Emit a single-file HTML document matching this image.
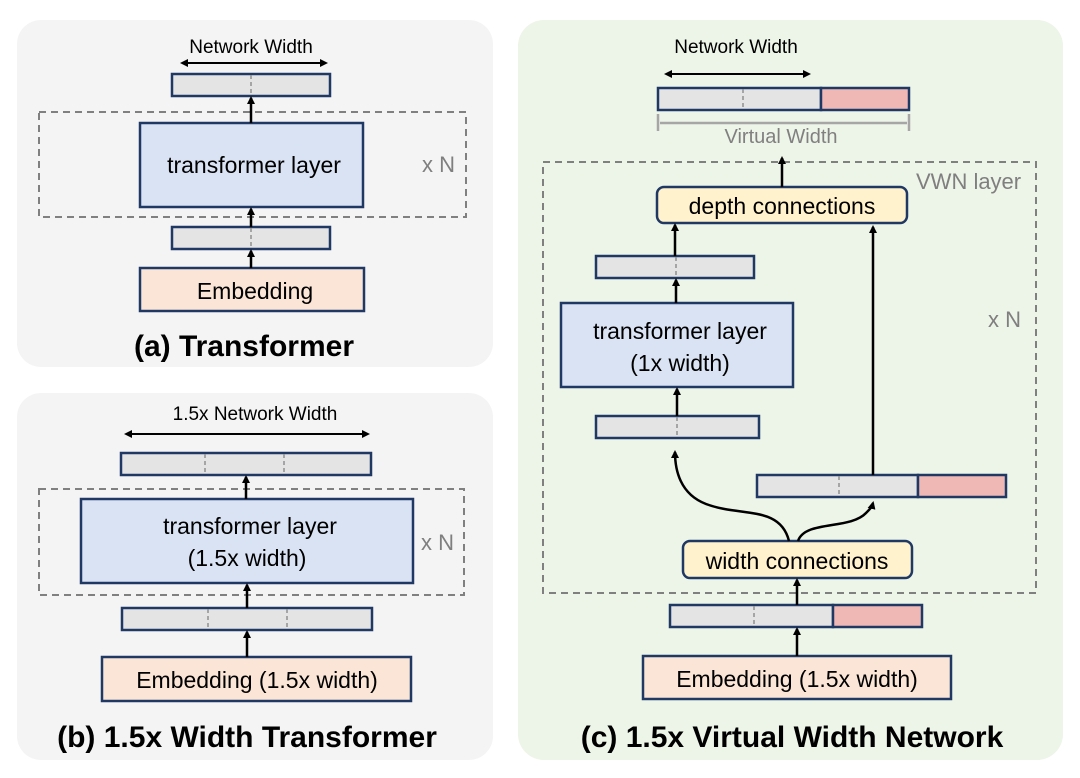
<!DOCTYPE html>
<html><head><meta charset="utf-8"><style>
html,body{margin:0;padding:0;background:#fff;}
svg{display:block;font-family:"Liberation Sans",sans-serif;}
</style></head><body>
<svg width="1080" height="778" viewBox="0 0 1080 778" xmlns="http://www.w3.org/2000/svg">
<defs>
<marker id="ah" markerWidth="8" markerHeight="8" refX="6" refY="4" orient="auto" markerUnits="userSpaceOnUse"><path d="M0,0 L8,4 L0,8 Z" fill="#000"/></marker>
<marker id="ahs" markerWidth="8" markerHeight="8" refX="2" refY="4" orient="auto" markerUnits="userSpaceOnUse"><path d="M8,0 L0,4 L8,8 Z" fill="#000"/></marker>
</defs>
<rect x="17" y="20" width="476" height="347" rx="24" fill="#f4f4f4"/>
<rect x="17" y="393" width="476" height="367" rx="24" fill="#f4f4f4"/>
<rect x="518" y="20" width="545" height="740" rx="26" fill="#edf4e8"/>

<g stroke="#203864" stroke-width="2.5">
<rect x="172" y="74" width="158" height="22" fill="#e4e4e4"/>
<rect x="140" y="123" width="223" height="84" fill="#dae3f3"/>
<rect x="172" y="227" width="158" height="22" fill="#e4e4e4"/>
<rect x="140" y="268" width="224" height="43" fill="#fbe5d6"/>
<rect x="121" y="453" width="250" height="22" fill="#e4e4e4"/>
<rect x="81" y="499" width="332" height="84" fill="#dae3f3"/>
<rect x="122" y="608" width="250" height="22" fill="#e4e4e4"/>
<rect x="102" y="657" width="309" height="44" fill="#fbe5d6"/>
<rect x="658" y="88" width="163" height="22" fill="#e4e4e4"/>
<rect x="821" y="88" width="88" height="22" fill="#f0b8b4"/>
<rect x="657" y="187" width="250" height="36" rx="7" fill="#fff2cc"/>
<rect x="596" y="256" width="158" height="22" fill="#e4e4e4"/>
<rect x="561" y="303" width="232" height="84" fill="#dae3f3"/>
<rect x="596" y="416" width="163" height="22" fill="#e4e4e4"/>
<rect x="757" y="475" width="161" height="22" fill="#e4e4e4"/>
<rect x="918" y="475" width="88" height="22" fill="#f0b8b4"/>
<rect x="683" y="541" width="229" height="37" rx="7" fill="#fff2cc"/>
<rect x="670" y="605" width="163" height="22" fill="#e4e4e4"/>
<rect x="833" y="605" width="89" height="22" fill="#f0b8b4"/>
<rect x="643" y="656" width="308" height="43" fill="#fbe5d6"/>
</g>

<g fill="none" stroke="#808080" stroke-width="2" stroke-dasharray="7,5">
<rect x="39" y="112" width="427" height="105"/>
<rect x="39" y="489" width="425" height="106"/>
<rect x="543" y="162" width="493" height="431"/>
</g>
<g stroke="#909090" stroke-width="1.5" stroke-dasharray="4,3">
<line x1="251" y1="75" x2="251" y2="95"/><line x1="251" y1="228" x2="251" y2="248"/>
<line x1="205" y1="454" x2="205" y2="474"/><line x1="284" y1="454" x2="284" y2="474"/>
<line x1="208" y1="609" x2="208" y2="629"/><line x1="287" y1="609" x2="287" y2="629"/>
<line x1="743" y1="89" x2="743" y2="109"/><line x1="676" y1="257" x2="676" y2="277"/>
<line x1="677" y1="417" x2="677" y2="437"/><line x1="839" y1="476" x2="839" y2="496"/>
<line x1="754" y1="606" x2="754" y2="626"/>
</g>

<g stroke="#000" stroke-width="2.5" fill="none" marker-end="url(#ah)">
<line x1="251" y1="123" x2="251" y2="98"/>
<line x1="251" y1="227" x2="251" y2="209"/>
<line x1="251" y1="268" x2="251" y2="251"/>
<line x1="246" y1="499" x2="246" y2="477"/>
<line x1="247" y1="608" x2="247" y2="585"/>
<line x1="247" y1="657" x2="247" y2="632"/>
<line x1="782" y1="187" x2="782" y2="158"/>
<line x1="675" y1="256" x2="675" y2="225"/>
<line x1="676" y1="303" x2="676" y2="280"/>
<line x1="677" y1="416" x2="677" y2="389"/>
<line x1="873" y1="475" x2="873" y2="227"/>
<line x1="797" y1="605" x2="797" y2="580"/>
<line x1="797" y1="656" x2="797" y2="629"/>
<path d="M789,541 C780,505 740,517 706,504 C680,494 675,470 675,452"/>
<path d="M798,541 C805,520 850,530 866,513 C870,509 872,507 873,503"/>
</g>
<g stroke="#000" stroke-width="2" marker-end="url(#ah)" marker-start="url(#ahs)">
<line x1="182" y1="63" x2="326" y2="63"/>
<line x1="126" y1="434" x2="368" y2="434"/>
<line x1="666" y1="74" x2="809" y2="74"/>
</g>
<g stroke="#a6a6a6" stroke-width="2.5">
<line x1="660" y1="123" x2="907" y2="123"/>
<line x1="658" y1="114" x2="658" y2="131"/>
<line x1="909" y1="114" x2="909" y2="131"/>
</g>

<g font-size="19" fill="#000" text-anchor="middle">
<text x="251" y="53">Network Width</text>
<text x="255" y="420">1.5x Network Width</text>
<text x="736" y="53">Network Width</text>
</g>
<g font-size="23" fill="#000" text-anchor="middle">
<text x="254" y="173">transformer layer</text>
<text x="255" y="299">Embedding</text>
<text x="250" y="534">transformer layer</text>
<text x="247" y="566">(1.5x width)</text>
<text x="257" y="688">Embedding (1.5x width)</text>
<text x="782" y="214">depth connections</text>
<text x="680" y="339">transformer layer</text>
<text x="680" y="371">(1x width)</text>
<text x="797" y="569">width connections</text>
<text x="797" y="687">Embedding (1.5x width)</text>
</g>
<g font-size="22" fill="#7f7f7f">
<text x="422" y="172">x N</text>
<text x="421" y="550">x N</text>
<text x="988" y="327">x N</text>
<text x="916" y="189">VWN layer</text>
<text x="781" y="143" font-size="20" text-anchor="middle" fill="#808080">Virtual Width</text>
</g>
<g font-size="30" font-weight="bold" fill="#000" text-anchor="middle">
<text x="244" y="356">(a) Transformer</text>
<text x="247" y="747">(b) 1.5x Width Transformer</text>
<text x="792" y="747">(c) 1.5x Virtual Width Network</text>
</g>
</svg>
</body></html>
